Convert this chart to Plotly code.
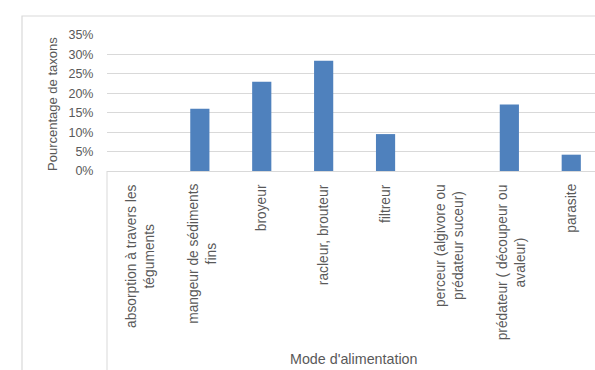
import plotly.graph_objects as go

# Feeding modes (categories) and share of taxa in each
categories = [
    "absorption à travers les<br>téguments",
    "mangeur de sédiments<br>fins",
    "broyeur",
    "racleur, brouteur",
    "filtreur",
    "perceur (algivore ou<br>prédateur suceur)",
    "prédateur ( découpeur ou<br>avaleur)",
    "parasite",
]
percentages = [0.0, 0.16, 0.23, 0.284, 0.095, 0.0, 0.171, 0.042]
y_ticks = [0, 0.05, 0.10, 0.15, 0.20, 0.25, 0.30, 0.35]
y_tick_labels = ["0%", "5%", "10%", "15%", "20%", "25%", "30%", "35%"]

FONT = "Liberation Sans"
GREY_TEXT = "#595959"
GRID = "#d9d9d9"

x_idx = list(range(len(categories)))

fig = go.Figure(
    go.Bar(
        x=x_idx,
        y=percentages,
        marker=dict(color="#4f81bd", line=dict(width=0)),
        width=0.31,
    )
)

# plot area geometry (px)
W, H = 595, 370
left, top, bottom = 107, 35, 171
plot_w = W - left
plot_h = bottom - top

def px_x(px):
    return (px - left) / plot_w

def px_y(py):
    return (bottom - py) / plot_h

# category labels, rotated and centred line by line
for i, lab in zip(x_idx, categories):
    fig.add_annotation(
        x=i, xref="x", y=px_y(182), yref="paper",
        text=lab, textangle=-90, showarrow=False,
        xanchor="center", yanchor="top", align="center",
        xshift=2 if "<br>" in lab else 0,
        font=dict(family=FONT, size=13.8, color=GREY_TEXT),
    )

# axis titles
fig.add_annotation(
    x=px_x(354), xref="paper", y=px_y(359), yref="paper",
    text="Mode d'alimentation", showarrow=False,
    xanchor="center", yanchor="middle",
    font=dict(family=FONT, size=14.3, color=GREY_TEXT),
)
fig.add_annotation(
    x=px_x(52), xref="paper", y=px_y(104), yref="paper",
    text="Pourcentage de taxons", showarrow=False, textangle=-90,
    xanchor="center", yanchor="middle",
    font=dict(family=FONT, size=13, color=GREY_TEXT),
)

# chart frame and the separator line below the category axis
fig.add_shape(
    type="rect", xref="paper", yref="paper",
    x0=px_x(22), x1=px_x(W + 20), y0=px_y(H + 20), y1=px_y(16),
    line=dict(color="#d9d9d9", width=1.2), fillcolor="rgba(0,0,0,0)",
    layer="below",
)
fig.add_shape(
    type="line", xref="paper", yref="paper",
    x0=0, x1=0, y0=0, y1=px_y(H + 20),
    line=dict(color=GRID, width=1),
)

fig.update_layout(
    width=W, height=H,
    margin=dict(l=left, r=0, t=top, b=H - bottom, pad=0),
    paper_bgcolor="white", plot_bgcolor="white",
    showlegend=False,
    font=dict(family=FONT, color=GREY_TEXT),
    xaxis=dict(
        range=[-0.5, -0.5 + plot_w / 61.9],
        showticklabels=False, showgrid=False, zeroline=False,
        showline=True, linecolor=GRID, linewidth=1, ticks="",
        fixedrange=True,
    ),
    yaxis=dict(
        range=[0, 0.35], tickvals=y_ticks, ticktext=y_tick_labels,
        showgrid=True, gridcolor=GRID, gridwidth=1,
        zeroline=False, showline=False,
        ticks="outside", ticklen=10, tickcolor="rgba(0,0,0,0)",
        tickfont=dict(family=FONT, size=12.5, color=GREY_TEXT),
        fixedrange=True,
    ),
)

fig.write_html("out.html")
